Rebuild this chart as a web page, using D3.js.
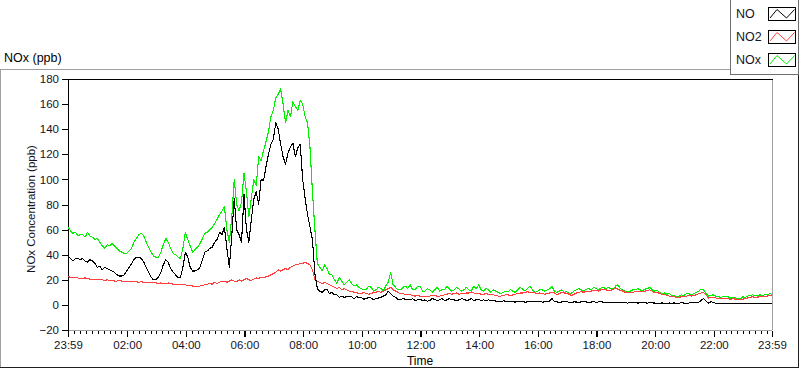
<!DOCTYPE html>
<html>
<head>
<meta charset="utf-8">
<script src="https://cdn.jsdelivr.net/npm/d3@7"></script>
<style>
  body { margin: 0; background: #fff; }
  svg { display: block; font-family: 'Liberation Sans', Arial, sans-serif; }
</style>
</head>
<body>
<div class="vis-container"></div>
<script>
// minutes after 23:59, one sample every 5 minutes
const minutes = d3.range(0, 1441, 5);

const no = [
  39, 37, 35, 37, 37, 36, 37, 35, 34, 36, 35, 33, 30, 31, 28, 30, 29, 28, 27, 26,
  24, 23, 23, 24, 27, 30, 33, 36, 38, 38, 37, 34, 30, 26, 22, 20, 20, 22, 26, 32,
  36, 34, 29, 26, 24, 22, 22, 30, 42, 38, 30, 27, 27, 28, 30, 36, 42, 43, 45, 46,
  50, 52, 58, 56, 62, 45, 30, 55, 85, 60, 56, 50, 88, 60, 50, 68, 84, 90, 80, 100,
  99, 110, 120, 128, 132, 145, 140, 128, 118, 112, 121, 126, 129, 118, 125, 128, 100, 85, 72, 62,
  52, 25, 13, 11, 10, 12, 12, 9, 10, 8, 8, 6, 7, 6, 6.5, 7, 6.5, 5, 6.5, 6,
  6, 4.5, 5, 6, 5.5, 4, 5, 5.5, 6, 7, 8, 11, 9, 7, 6, 4.5, 4, 5, 4.5, 4,
  4, 5, 3.5, 4, 4.5, 3.5, 4, 3, 3.5, 5, 4.5, 3.5, 4, 5, 3.5, 4, 5, 4, 4, 3.5,
  4, 5, 4.5, 3.5, 4, 5, 3.5, 4, 4.5, 3.5, 4, 3, 4, 3.5, 3.5, 3, 3, 2.5, 3.2, 3,
  2.7, 3, 2.6, 2.2, 3, 2.6, 2.8, 2.2, 2.4, 3, 2.8, 2.4, 2.6, 3, 2.2, 2.4, 2.6, 3, 5, 2.6,
  2.4, 2, 2.3, 2.8, 2.6, 2, 2.1, 2.4, 2.3, 2, 2.5, 2.8, 2.3, 2, 2.2, 2.6, 2, 2.4, 2.5, 2.2,
  2, 1.6, 2.2, 1.8, 1.8, 2.2, 1.6, 1.8, 1.8, 1.4, 2, 1.6, 1.8, 1.5, 1.6, 2, 1.8, 1.4, 1.8, 1.6,
  1.5, 1.2, 1.3, 1.6, 1.2, 1, 1.5, 1.3, 1.6, 1.2, 1.4, 1.7, 1.5, 1.2, 1.5, 1.8, 1.6, 2, 2, 3.5,
  5, 3, 1.5, 2.5, 2, 1.2, 1.5, 1, 1.2, 1.4, 1.3, 1, 1.1, 1.3, 1.2, 1, 1.3, 1.1, 1.2, 1,
  1.2, 1.3, 1.1, 1, 1.2, 1.4, 1.3, 1.1, 1.2
];

const no2 = [
  22.5, 22, 22, 21.5, 21.5, 21, 21, 21.5, 21, 20.5, 20.5, 20, 20, 20.5, 20, 19.5, 20, 19.5, 19.5, 19,
  19, 19.5, 19, 18.5, 19, 18.5, 19, 18.5, 18.5, 18, 18.5, 18, 18, 17.5, 18, 17.5, 17.5, 17, 17.5, 17,
  17, 17.5, 17, 16.5, 16.5, 16, 16.5, 16, 16, 15.5, 15.5, 15, 15, 14.5, 15, 15.5, 16, 16.5, 17, 16.5,
  18, 17, 18, 19, 19, 18, 19, 20, 19, 18.5, 20, 19, 20, 21, 20, 19.5, 20.5, 21.5, 21, 22,
  21.5, 22.5, 23, 24, 25, 26, 28, 27, 28, 29, 28, 30, 31, 32, 32, 33, 33, 34, 33, 32,
  28, 20, 19, 18, 17, 18, 17, 16, 15, 14, 13, 14, 12, 13, 12, 11, 11, 10, 10, 9,
  9, 10, 9, 8.5, 9, 10, 10, 11, 10, 11, 12, 13, 14, 12, 11, 10, 9, 9.5, 8, 8.5,
  8, 7.5, 7, 7.5, 7, 6.5, 6.5, 7, 7, 7.5, 7.5, 7, 7, 7.5, 8, 8.5, 9, 8.5, 9, 9.5,
  8.5, 9, 9, 9.5, 9.5, 10, 9.5, 9, 9, 8.5, 8.5, 9, 8.5, 8, 8, 7.5, 7, 7, 7.5, 8,
  8, 7.5, 8, 8.5, 9, 9.5, 9.5, 10, 10.5, 10, 10, 9.5, 9, 9.5, 9, 8.5, 9, 9.5, 10, 9.5,
  8, 9, 10, 9.5, 9, 8.5, 7.5, 8.5, 9.5, 10, 10.5, 10, 11, 10.5, 11, 11.5, 11.5, 11, 12, 12.5,
  12, 11.5, 11.5, 12.5, 13.5, 12.5, 11.5, 11, 10, 10, 9.5, 10, 10.5, 11, 11, 10.5, 11, 11.5, 12, 11,
  9.5, 10, 9, 8.5, 8.5, 7.5, 7, 6.5, 6.5, 6, 6, 6.5, 6.5, 7, 7.5, 7, 7.5, 8, 9, 9.5,
  10, 8, 5.5, 6, 6, 5.5, 5.2, 5, 5.5, 5, 5, 4.5, 5, 4.5, 4.5, 4, 4.5, 5, 5.5, 6,
  6.5, 6, 6, 6.5, 6.5, 7, 7, 7.5, 7.5
];

const nox = [
  62, 59, 57, 58, 55, 56, 56, 54, 58, 55, 54, 52, 53, 50, 47, 45, 48, 47, 49, 47,
  45, 43, 42, 41, 41, 43, 45, 50, 53, 56, 57, 55, 50, 46, 42, 39, 38, 38, 42, 48,
  53, 50, 45, 41, 40, 38, 37, 45, 58, 52, 47, 42, 44, 46, 49, 53, 57, 58, 60, 62,
  65, 68, 72, 75, 78, 60, 50, 70, 100, 80, 75, 82, 105, 90, 70, 85, 100, 95, 118, 115,
  123, 130, 138, 150, 155, 165, 168, 172, 160, 145, 155, 150, 162, 158, 155, 163, 160, 150, 145, 125,
  90, 60, 33, 30, 27, 32, 29, 24, 24, 20, 17, 22, 19, 16, 18, 20, 17, 15, 16, 14,
  13, 12, 12, 15, 14, 11, 12, 14, 13, 11, 15, 18, 26, 16, 14, 12, 12, 14, 15, 13,
  16, 12, 12, 15, 15, 11, 11, 13, 12, 10, 12, 14, 11, 12, 12, 15, 13, 11, 12, 14,
  12.5, 11, 12, 14, 12, 11, 15, 13, 16, 12, 11, 13, 12, 10, 12, 11, 10, 9, 10, 11,
  10.5, 12, 11, 10, 12, 14, 12.5, 11, 13, 15, 12, 10, 10.5, 12, 12, 11, 12, 13, 14.5, 11,
  10, 11, 12, 10, 10.5, 9, 9.5, 11, 12, 13, 12, 11, 12.5, 13, 12, 14, 13, 12, 13.5, 14,
  13, 14, 13, 12.5, 15, 16, 13, 12, 11, 10.5, 11, 12, 12, 13, 12, 11.5, 12.5, 13, 14, 12,
  11, 11.5, 10, 9, 9.5, 8.5, 9, 7.5, 7.5, 6.5, 7, 8, 7.5, 9, 9, 8, 9, 10, 11, 12.5,
  12, 9, 7, 7.5, 8, 7, 6.5, 6, 6.5, 7, 6.5, 5.5, 6, 5.5, 5, 4.5, 6.5, 6, 7, 7.5,
  8, 7.5, 7, 8, 7.5, 8, 8, 9, 8.5
];

const seriesNames = ['NO', 'NO2', 'NOx'];
const seriesColors = ['#000000', '#ff4040', '#00f000'];

const yTicks = [-20, 0, 20, 40, 60, 80, 100, 120, 140, 160, 180];
const xTickMinutes = [0, 121, 241, 361, 481, 601, 721, 841, 961, 1081, 1201, 1321, 1440];
const xTickLabels = ['23:59', '02:00', '04:00', '06:00', '08:00', '10:00', '12:00',
  '14:00', '16:00', '18:00', '20:00', '22:00', '23:59'];

const W = 800, H = 369;
const plot = { left: 68, top: 79, right: 772, bottom: 330 };

const svg = d3
  .select('.vis-container')
  .append('svg')
  .attr('width', W)
  .attr('height', H);

// outer panel frame
svg.append('path')
  .attr('d', `M0.5,367 V69.5 H730`)
  .attr('fill', 'none')
  .attr('stroke', '#a0a0a0')
  .attr('shape-rendering', 'crispEdges');
svg.append('path')
  .attr('d', `M0,367.5 H798.5 V69`)
  .attr('fill', 'none')
  .attr('stroke', '#202020')
  .attr('shape-rendering', 'crispEdges');

svg.append('text')
  .attr('x', 4)
  .attr('y', 62)
  .attr('font-size', 12.5)
  .attr('fill', '#000')
  .text('NOx (ppb)');

const xScale = d3.scaleLinear().domain([0, 1440]).range([plot.left, plot.right]);
const yScale = d3.scaleLinear().domain([-20, 180]).range([plot.bottom, plot.top]);

// plot frame
svg.append('path')
  .attr('d', `M${plot.right + 0.5},${plot.top} V${plot.bottom} M${plot.left},${plot.bottom + 0.5} H${plot.right}`)
  .attr('stroke', '#a0a0a0')
  .attr('fill', 'none')
  .attr('shape-rendering', 'crispEdges');
svg.append('path')
  .attr('d', `M${plot.left + 0.5},${plot.bottom + 1} V${plot.top + 0.5} H${plot.right + 1}`)
  .attr('stroke', '#000')
  .attr('fill', 'none')
  .attr('shape-rendering', 'crispEdges');

// axes
const yAxis = d3.axisLeft(yScale).tickValues(yTicks).tickSize(6).tickPadding(3);
svg.append('g')
  .attr('transform', `translate(${plot.left},0)`)
  .call(yAxis)
  .call((g) => g.select('.domain').remove())
  .call((g) => g.selectAll('line').attr('shape-rendering', 'crispEdges'))
  .call((g) => g.selectAll('text')
    .attr('font-family', "'Liberation Sans', Arial, sans-serif")
    .attr('font-size', 11.5)
    .attr('fill', '#141428'));

const minorMinutes = d3.range(13, 1440, 12).filter((m) => (m - 1) % 120 !== 0);
svg.append('g')
  .attr('transform', `translate(0,${plot.bottom + 1})`)
  .call(d3.axisBottom(xScale).tickValues(minorMinutes).tickSize(3).tickFormat(''))
  .call((g) => g.select('.domain').remove())
  .call((g) => g.selectAll('line').attr('shape-rendering', 'crispEdges'));

const xAxis = d3.axisBottom(xScale)
  .tickValues(xTickMinutes)
  .tickSize(6)
  .tickPadding(4)
  .tickFormat((d, i) => xTickLabels[i]);
svg.append('g')
  .attr('transform', `translate(0,${plot.bottom + 1})`)
  .call(xAxis)
  .call((g) => g.select('.domain').remove())
  .call((g) => g.selectAll('line').attr('shape-rendering', 'crispEdges').attr('stroke-width', 1.5))
  .call((g) => g.selectAll('text')
    .attr('font-family', "'Liberation Sans', Arial, sans-serif")
    .attr('font-size', 11.5)
    .attr('fill', '#141428'));

svg.append('text')
  .attr('x', (plot.left + plot.right) / 2)
  .attr('y', 365)
  .attr('text-anchor', 'middle')
  .attr('font-size', 12)
  .attr('fill', '#000')
  .text('Time');

svg.append('text')
  .attr('transform', `translate(35,209) rotate(-90)`)
  .attr('text-anchor', 'middle')
  .attr('font-size', 11.5)
  .attr('fill', '#141428')
  .text('NOx Concentration (ppb)');

// data lines, NOx first so NO2 and NO sit on top
const line = d3
  .line()
  .x((d) => xScale(d[0]))
  .y((d) => yScale(d[1]));

const series = [no, no2, nox];
[2, 1, 0].forEach((k) => {
  svg.append('path')
    .datum(minutes.map((m, i) => [m, series[k][i]]))
    .attr('fill', 'none')
    .attr('stroke', seriesColors[k])
    .attr('stroke-width', 1.1)
    .attr('stroke-linejoin', 'round')
    .attr('shape-rendering', 'crispEdges')
    .attr('d', line);
});

// legend
const legend = svg.append('g');
legend.append('rect')
  .attr('x', 730.5)
  .attr('y', -1)
  .attr('width', 68)
  .attr('height', 75)
  .attr('fill', '#fff')
  .attr('stroke', '#707070')
  .attr('shape-rendering', 'crispEdges');

const item = legend.selectAll('g.item')
  .data(seriesNames)
  .join('g')
  .attr('class', 'item')
  .attr('transform', (d, i) => `translate(0,${i * 23})`);

item.append('text')
  .attr('x', 736)
  .attr('y', 18)
  .attr('font-size', 12.5)
  .attr('fill', '#141428')
  .text((d) => d);

item.append('rect')
  .attr('x', 768.5)
  .attr('y', 7.5)
  .attr('width', 27)
  .attr('height', 13)
  .attr('fill', '#fff')
  .attr('stroke', '#000')
  .attr('shape-rendering', 'crispEdges');

item.append('path')
  .attr('d', 'M770,18 L777,9.5 L786.5,18 L794.5,9.5')
  .attr('fill', 'none')
  .attr('stroke', (d, i) => seriesColors[i])
  .attr('stroke-width', 1);
</script>
</body>
</html>
